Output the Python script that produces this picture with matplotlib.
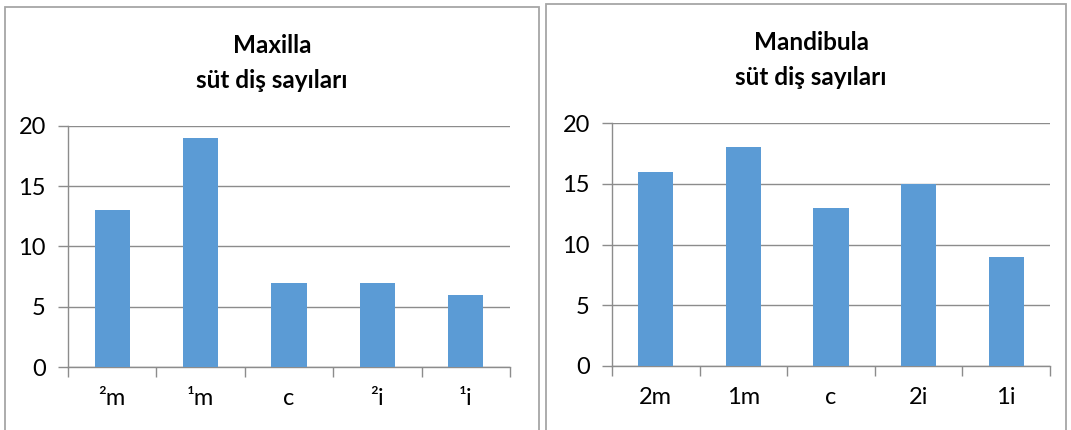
import matplotlib
matplotlib.use("Agg")
import matplotlib.pyplot as plt
from matplotlib.patches import Rectangle

plt.rcParams["font.family"] = ["Lato", "DejaVu Sans"]

# ── data ──────────────────────────────────────────────────────────────────────
maxilla_labels = ["²m", "¹m", "c", "²i", "¹i"]
maxilla_counts = [13, 19, 7, 7, 6]

mandibula_labels = ["2m", "1m", "c", "2i", "1i"]
mandibula_counts = [16, 18, 13, 15, 9]

y_ticks = [0, 5, 10, 15, 20]

BAR_COL  = "#5B9BD5"
GRID_COL = "#8C8C8C"
AXIS_COL = "#8C8C8C"
FRAME_COL = "#A6A6A6"

W, H = 1071, 430
fig = plt.figure(figsize=(W / 100, H / 100), dpi=100)
fig.patch.set_facecolor("white")


def px_rect(x0, y0, x1, y1):
    """pixel box (top-left origin) -> figure fraction [l, b, w, h]"""
    return [x0 / W, 1 - y1 / H, (x1 - x0) / W, (y1 - y0) / H]


def frame(x0, y0, x1, y1):
    l, b, w, h = px_rect(x0, y0, x1, y1)
    fig.patches.append(Rectangle((l, b), w, h, transform=fig.transFigure,
                                 facecolor="none", edgecolor=FRAME_COL,
                                 lw=1.3, zorder=0))


def bar_panel(box, labels, counts, title, title_xy):
    ax = fig.add_axes(px_rect(*box))
    x = range(len(labels))
    ax.bar(x, counts, width=0.4, color=BAR_COL, zorder=3)
    ax.set_xlim(-0.5, len(labels) - 0.5)
    ax.set_ylim(0, 20)
    ax.set_yticks(y_ticks)
    ax.set_yticklabels([str(t) for t in y_ticks])
    ax.set_xticks(list(x))
    ax.set_xticklabels(labels)
    ax.set_xticks([i - 0.5 for i in range(len(labels) + 1)], minor=True)
    ax.yaxis.grid(True, color=GRID_COL, lw=1.0, zorder=0)
    ax.set_axisbelow(True)
    for s in ("top", "right"):
        ax.spines[s].set_visible(False)
    for s in ("left", "bottom"):
        ax.spines[s].set_color(AXIS_COL)
        ax.spines[s].set_linewidth(1.0)
    ax.tick_params(axis="y", length=7, width=1.0, color=AXIS_COL,
                   labelsize=17, pad=9)
    ax.tick_params(axis="x", which="major", length=0, labelsize=17, pad=15)
    ax.tick_params(axis="x", which="minor", length=7, width=1.0,
                   color=AXIS_COL)
    fig.text(title_xy[0] / W, 1 - title_xy[1] / H, title, ha="center",
             va="center", fontsize=17.5, fontweight="bold", linespacing=1.6)
    return ax


# left panel: Maxilla
frame(5, 7, 539, 440)
bar_panel((68, 126, 510, 367), maxilla_labels, maxilla_counts,
          "Maxilla\nsüt diş sayıları", (272, 63))

# right panel: Mandibula
frame(546, 4, 1066, 440)
bar_panel((612, 123, 1050, 366), mandibula_labels, mandibula_counts,
          "Mandibula\nsüt diş sayıları", (811, 60))

fig.savefig("out.png", dpi=100, facecolor="white")
